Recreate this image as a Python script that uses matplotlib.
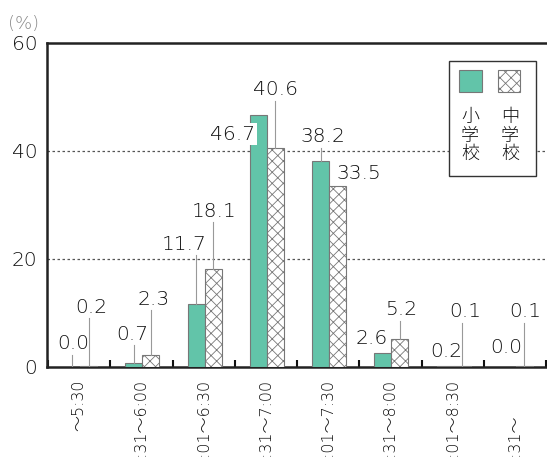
import matplotlib
matplotlib.use("Agg")
import matplotlib.pyplot as plt
from matplotlib.patches import Rectangle
import numpy as np

plt.rcParams['font.family'] = ['DejaVu Sans', 'Noto Sans CJK JP']
plt.rcParams['font.weight'] = 'light'
plt.rcParams['hatch.linewidth'] = 0.6

# data (%)
categories = ['～5:30', '5:31～6:00', '6:01～6:30', '6:31～7:00', '7:01～7:30',
              '7:31～8:00', '8:01～8:30', '8:31～']
elementary = [0.0, 0.7, 11.7, 46.7, 38.2, 2.6, 0.2, 0.0]
junior = [0.2, 2.3, 18.1, 40.6, 33.5, 5.2, 0.1, 0.1]
series_names = ['小学校', '中学校']

# hand placed value labels: (x offset in px, label y in %, leader line?)
elem_lbl = [(1.5, 4.3, True), (-2, 6.1, True), (-12.5, 22.7, True), (-25.5, 43.1, False),
            (2, 42.6, True), (-11, 5.3, False), (1.5, 2.9, False), (-1, 3.7, False)]
jun_lbl = [(3, 11.1, True), (2.5, 12.5, True), (1, 28.8, True), (0, 51.3, True),
           (21.5, 35.9, False), (1.5, 10.6, True), (3, 10.2, True), (1, 10.2, True)]

GREEN = '#62c4a9'
EDGE = '#777777'
TXT = '#111111'
PX_CAT = 62.25  # px per category
W = 17 / PX_CAT
SHIFT = 2 / PX_CAT

fig = plt.figure(figsize=(5.47, 4.59), dpi=100)
ax = fig.add_axes([47 / 547, 92 / 459, 505 / 547, 324 / 459])

x = np.arange(len(elementary)) + SHIFT
ax.bar(x - W, elementary, width=W, align='edge', color=GREEN, edgecolor=EDGE, linewidth=0.8, zorder=3)
ax.bar(x, junior, width=W, align='edge', color='white', edgecolor=EDGE, hatch='xxx', linewidth=0.8, zorder=3)

ax.set_xlim(-0.5, -0.5 + 505 / PX_CAT)
ax.set_ylim(0, 60)
ax.set_yticks([0, 20, 40, 60])
ax.set_yticklabels(['0', '20', '40', '60'], fontsize=14.5, color=TXT)
ax.tick_params(axis='y', length=0, pad=7)
ax.set_xticks(np.arange(-0.5, 8, 1) + SHIFT / 2)
ax.set_xticklabels([])
ax.tick_params(axis='x', direction='in', length=5, width=1.5, color='#111111')
for s in ['left', 'top', 'bottom']:
    ax.spines[s].set_linewidth(1.8)
    ax.spines[s].set_color('#222222')
ax.spines['right'].set_visible(False)

for yv in [20, 40]:
    ax.axhline(yv, color='#555555', lw=0.9, ls=(0, (2, 2)), zorder=1)

fig.text(8 / 547, 1 - 24 / 459, '(%)', fontsize=13, color='#888888', va='center', ha='left')


def put_labels(vals, lbls, sign):
    for i, (v, (dx, ly, lead)) in enumerate(zip(vals, lbls)):
        bx = i + SHIFT + sign * W / 2
        lx = bx + dx / PX_CAT
        kw = {}
        if not lead and i == 3:
            kw['bbox'] = dict(facecolor='white', edgecolor='none', pad=1)
        ax.text(lx, ly, f'{v:.1f}', ha='center', va='center', fontsize=14.5,
                color=TXT, zorder=5, **kw)
        if lead:
            ax.plot([bx, bx], [v, ly - 2.0], color='#999999', lw=0.8, zorder=4)


put_labels(elementary, elem_lbl, -1)
put_labels(junior, jun_lbl, 1)

# rotated category labels, lined up on the tilde
tr = ax.get_xaxis_transform()
for i, lab in enumerate(categories):
    xi = i + SHIFT / 2
    if lab.startswith('～'):
        ya, ha = -0.1975, 'left'
    elif lab.endswith('～'):
        ya, ha = -0.147, 'right'
    else:
        ya, ha = -0.171, 'center'
    ax.text(xi, ya, lab, rotation=90, rotation_mode='anchor', ha=ha, va='center',
            fontsize=11.5, color=TXT, transform=tr, clip_on=False)

# legend box
ta = ax.transAxes
ax.add_patch(Rectangle((0.796, 0.5895), 0.172, 0.3545, transform=ta, facecolor='white',
                       edgecolor='#333333', lw=1.0, zorder=6))
ax.add_patch(Rectangle((0.816, 0.849), 0.045, 0.068, transform=ta, facecolor=GREEN,
                       edgecolor=EDGE, lw=0.8, zorder=7))
ax.add_patch(Rectangle((0.893, 0.849), 0.044, 0.068, transform=ta, facecolor='white',
                       edgecolor=EDGE, hatch='xxx', lw=0.8, zorder=7))
for xc, name in zip([0.838, 0.917], series_names):
    ax.text(xc, 0.7145, '\n'.join(name), transform=ta, ha='center', va='center', fontsize=13,
            linespacing=1.05, color=TXT, family='Noto Sans CJK JP', zorder=8)

fig.savefig('out.png', dpi=100)
